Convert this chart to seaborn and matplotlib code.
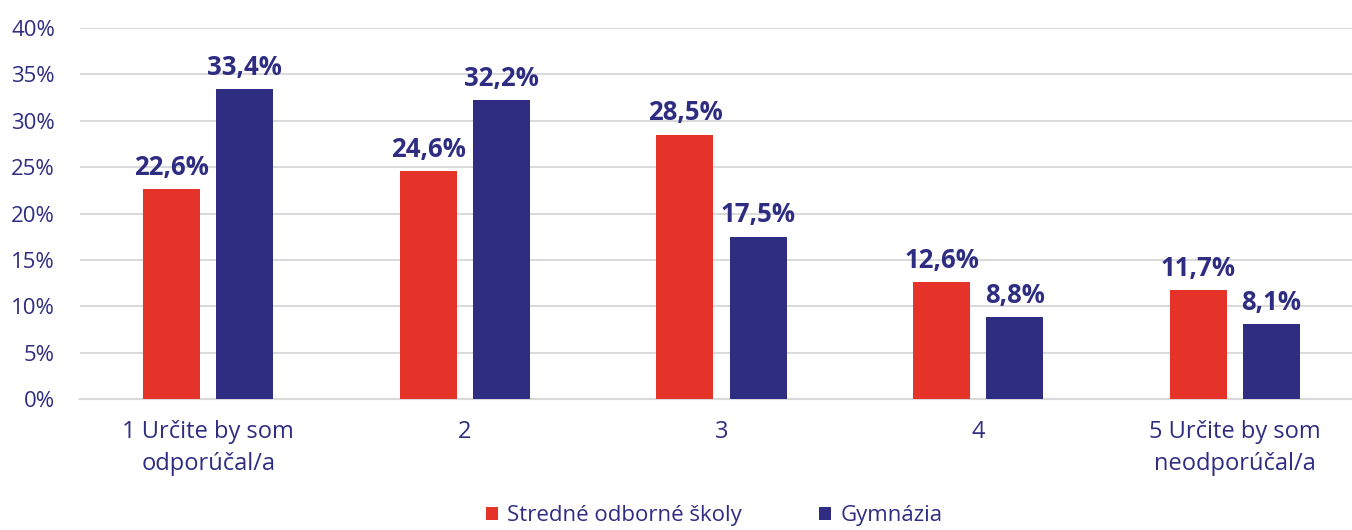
import pandas as pd
import matplotlib.pyplot as plt
import seaborn as sns
from matplotlib.ticker import FuncFormatter

categories = ["1 Určite by som\nodporúčal/a", "2", "3", "4", "5 Určite by som\nneodporúčal/a"]
series_names = ["Stredné odborné školy", "Gymnázia"]
sos = [22.6, 24.6, 28.5, 12.6, 11.7]
gym = [33.4, 32.2, 17.5, 8.8, 8.1]

red = "#E53329"
navy = "#2E2D82"
grid = "#D9D9D9"

df = pd.DataFrame({
    "Kategória": categories * 2,
    "Podiel": sos + gym,
    "Typ": [series_names[0]] * 5 + [series_names[1]] * 5,
})

sns.set_theme(style="white")
plt.rcParams["font.family"] = ["Open Sans", "DejaVu Sans"]

fig = plt.figure(figsize=(13.52, 5.30), dpi=100)
ax = fig.add_axes([80 / 1352, 131 / 530, 1 - 80 / 1352, (399 - 28) / 530])

sns.barplot(data=df, x="Kategória", y="Podiel", hue="Typ", palette=[red, navy],
            width=0.57, gap=0.22, saturation=1, linewidth=0, ax=ax, zorder=3)

for cont in ax.containers:
    ax.bar_label(cont, labels=[f"{v:.1f}%".replace(".", ",") for v in cont.datavalues],
                 padding=6, fontsize=18.5, fontweight="bold", color=navy)

ax.set_ylim(0, 40)
ax.set_xlim(-0.5, 4.5 - 11 / 256.6)
ax.set_yticks(range(0, 41, 5))
ax.yaxis.set_major_formatter(FuncFormatter(lambda v, p: f"{v:.0f}%"))
ax.grid(axis="y", color=grid, linewidth=1.4, zorder=0)
ax.set_axisbelow(True)
for s in ["top", "right", "left"]:
    ax.spines[s].set_visible(False)
ax.spines["bottom"].set_color(grid)
ax.spines["bottom"].set_linewidth(1.6)
ax.tick_params(axis="y", labelsize=16, colors=navy, length=0, pad=18)
ax.tick_params(axis="x", labelsize=17, colors=navy, length=0, pad=15)
for t in ax.get_xticklabels():
    t.set_linespacing(1.45)
ax.set_xlabel("")
ax.set_ylabel("")

h, l = ax.get_legend_handles_labels()
ax.legend_.remove()
fig.legend(h, l, loc="center", bbox_to_anchor=(714 / 1352, 1 - 516 / 530), ncol=2, frameon=False,
           fontsize=16, labelcolor=navy, handlelength=0.55, handleheight=0.55,
           handletextpad=0.4, columnspacing=3.5, borderpad=0)

fig.savefig("out.png", dpi=100)
